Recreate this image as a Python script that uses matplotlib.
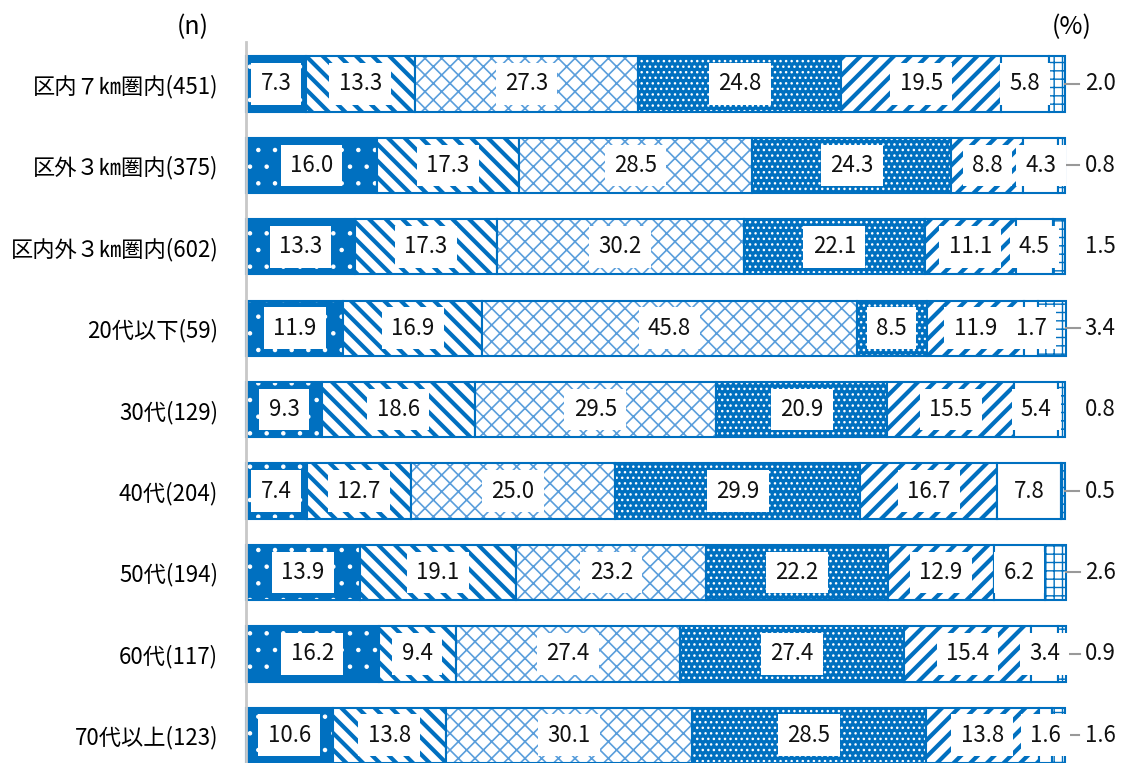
import matplotlib
matplotlib.use('Agg')
import matplotlib.pyplot as plt
import numpy as np

plt.rcParams['font.family'] = ['Noto Sans CJK JP', 'DejaVu Sans']

# data
cats = ['区内７㎞圏内(451)', '区外３㎞圏内(375)', '区内外３㎞圏内(602)',
        '20代以下(59)', '30代(129)', '40代(204)', '50代(194)',
        '60代(117)', '70代以上(123)']
s1 = [7.3, 16.0, 13.3, 11.9, 9.3, 7.4, 13.9, 16.2, 10.6]
s2 = [13.3, 17.3, 17.3, 16.9, 18.6, 12.7, 19.1, 9.4, 13.8]
s3 = [27.3, 28.5, 30.2, 45.8, 29.5, 25.0, 23.2, 27.4, 30.1]
s4 = [24.8, 24.3, 22.1, 8.5, 20.9, 29.9, 22.2, 27.4, 28.5]
s5 = [19.5, 8.8, 11.1, 11.9, 15.5, 16.7, 12.9, 15.4, 13.8]
s6 = [5.8, 4.3, 4.5, 1.7, 5.4, 7.8, 6.2, 3.4, 1.6]
s7 = [2.0, 0.8, 1.5, 3.4, 0.8, 0.5, 2.6, 0.9, 1.6]
leader = [True, True, False, True, False, True, True, True, True]

series = [s1, s2, s3, s4, s5, s6, s7]

BLUE = '#0070c0'
LBLUE = '#5a9edb'
# face, hatch colour, hatch, hatch linewidth
styles = [
    (BLUE, 'white', '.', 0.8),
    ('white', BLUE, '\\\\', 3.0),
    ('white', LBLUE, 'xx', 1.2),
    (BLUE, 'white', '...', 1.0),
    ('white', BLUE, '//', 3.0),
    ('white', BLUE, '', 1.0),
    ('white', BLUE, '++', 1.0),
]

fig = plt.figure(figsize=(11.27, 7.63), dpi=100)
ax = fig.add_axes([246/1127, 0, (1065-246)/1127, 0.945])

y = np.arange(len(cats))
h = 0.68
left = np.zeros(len(cats))
for vals, (fc, hc, hatch, hlw) in zip(series, styles):
    vals = np.array(vals)
    with plt.rc_context({'hatch.linewidth': hlw}):
        bars = ax.barh(y, vals, left=left, height=h, color=fc, edgecolor=hc,
                       hatch=hatch, linewidth=0, clip_on=False)
        for b in bars:
            if hasattr(b, 'set_hatch_linewidth'):
                b.set_hatch_linewidth(hlw)
    ax.barh(y, vals, left=left, height=h, fill=False, edgecolor=BLUE,
            linewidth=1.5, clip_on=False)
    left = left + vals

box = dict(boxstyle='square,pad=0.42', facecolor='white', edgecolor='none')

# labels inside the bars (all but the last series)
left = np.zeros(len(cats))
for vals in series[:-1]:
    for i, v in enumerate(vals):
        ax.text(left[i] + v / 2, y[i], f'{v:.1f}', ha='center', va='center',
                fontsize=16, color='#111111', bbox=box)
    left = left + np.array(vals)

# last series outside with leader lines
for i, v in enumerate(s7):
    end = left[i] + v
    if leader[i]:
        ax.plot([end, end + 1.7], [y[i], y[i]], color='#999999', lw=1.5,
                clip_on=False)
    ax.text(102.4, y[i], f'{v:.1f}', ha='left', va='center', fontsize=16,
            color='#111111')

ax.set_xlim(0, 100)
ax.set_ylim(8.34, -0.516)
ax.spines['left'].set_color('#c8c8c8')
ax.spines['left'].set_linewidth(2)
for sp in ['top', 'right', 'bottom']:
    ax.spines[sp].set_visible(False)
ax.set_yticks(y)
ax.set_yticklabels(cats, fontsize=16)
ax.tick_params(axis='y', length=0, pad=20)
ax.set_xticks([])

fig.text(193/1127, 1 - 27/763, '(n)', ha='center', va='center', fontsize=18)
fig.text(1072/1127, 1 - 27/763, '(%)', ha='center', va='center', fontsize=18)

fig.savefig('out.png', dpi=100)
